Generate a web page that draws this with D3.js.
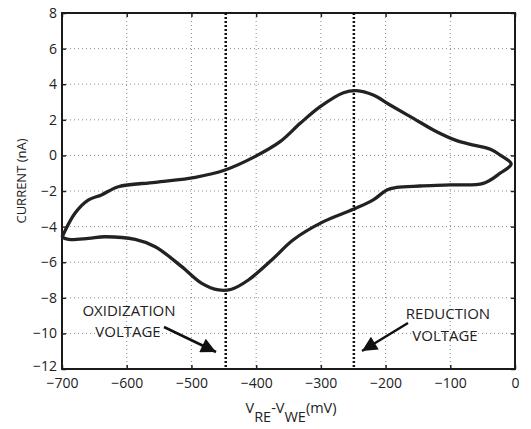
<!DOCTYPE html>
<html>
<head>
<meta charset="utf-8">
<script src="https://cdn.jsdelivr.net/npm/d3@7"></script>
<style>
  body { margin: 0; background: #fff; }
  text { font-family: "Open Sans", "Noto Sans", sans-serif; fill: #222; }
  .tick text { font-size: 14px; }
  .tick line { stroke: #222; }
  .domain { stroke: none; }
</style>
</head>
<body>
<div id="chart"></div>
<script>
// cyclic voltammogram, one full loop starting at -700 mV
var voltage = [-700, -680, -659, -639, -613, -556, -494, -448, -402, -363, -332, -301, -265, -245, -219, -193,
               -157, -121, -90, -64, -38, -23, -6, -23, -49, -100, -147, -183, -198, -219, -250, -296,
               -343, -376, -412, -438, -458, -484, -515, -556, -587, -634, -659, -690, -700];
var current = [-4.6, -3.25, -2.5, -2.22, -1.76, -1.51, -1.23, -0.82, -0.07, 0.77, 1.8, 2.74, 3.52, 3.64, 3.39, 2.83,
               2.08, 1.33, 0.83, 0.58, 0.34, 0.02, -0.48, -1.0, -1.57, -1.66, -1.72, -1.8, -1.94, -2.5, -3.03, -3.72,
               -4.75, -5.88, -7.0, -7.52, -7.56, -7.19, -6.25, -5.13, -4.72, -4.57, -4.66, -4.72, -4.6];

var xTicks = [-700, -600, -500, -400, -300, -200, -100, 0];
var yTicks = [-12, -10, -8, -6, -4, -2, 0, 2, 4, 6, 8];

// marker lines and their labels
var markerVoltage = [-447, -249];
var markerLabel = [["OXIDIZATION", "VOLTAGE"], ["REDUCTION", "VOLTAGE"]];

var margin = {top: 13, right: 16, bottom: 60, left: 62},
    width = 531 - margin.left - margin.right,
    height = 429 - margin.top - margin.bottom
    ;

var svg = d3.select("#chart").append("svg")
    .attr("width", 531)
    .attr("height", 429)
    ;

var plot = svg.append("g")
    .attr("transform", "translate(" + margin.left + "," + margin.top + ")")
    ;

var x = d3.scaleLinear().domain([-700, 0]).range([0, width]);
var y = d3.scaleLinear().domain([-12, 8]).range([height, 0]);

/* dotted grid */
plot.selectAll(".gx").data(xTicks.slice(1, -1)).enter().append("line")
    .attr("x1", d => x(d)).attr("x2", d => x(d))
    .attr("y1", 0).attr("y2", height)
    .attr("stroke", "#8a8a8a").attr("stroke-width", 1)
    .attr("stroke-dasharray", "1,3")
    ;
plot.selectAll(".gy").data(yTicks.slice(1, -1)).enter().append("line")
    .attr("x1", 0).attr("x2", width)
    .attr("y1", d => y(d)).attr("y2", d => y(d))
    .attr("stroke", "#8a8a8a").attr("stroke-width", 1)
    .attr("stroke-dasharray", "1,3")
    ;

/* axes, ticks pointing inward like matlab */
plot.append("g")
    .attr("transform", "translate(0," + height + ")")
    .call(d3.axisBottom(x).tickValues(xTicks).tickSize(-4).tickPadding(9))
    ;
var yAxis = plot.append("g")
    .call(d3.axisLeft(y).tickValues(yTicks).tickSize(-4).tickPadding(5))
    ;
// -12 sits right on top of -700, lift it a hair
yAxis.selectAll(".tick text").filter(d => d == -12).attr("dy", "0.1em");
plot.append("g")
    .call(d3.axisTop(x).tickValues(xTicks).tickSize(-4).tickFormat(""))
    ;
plot.append("g")
    .attr("transform", "translate(" + width + ",0)")
    .call(d3.axisRight(y).tickValues(yTicks).tickSize(-4).tickFormat(""))
    ;
plot.selectAll(".tick line").attr("stroke-width", 1.5);

// frame
plot.append("path")
    .attr("d", "M0,0H" + width + "V" + height + "H0Z")
    .attr("fill", "none")
    .attr("stroke", "#1a1a1a")
    .attr("stroke-width", 2)
    ;

/* vertical marker lines */
plot.selectAll(".marker").data(markerVoltage).enter().append("line")
    .attr("x1", d => x(d)).attr("x2", d => x(d))
    .attr("y1", 0).attr("y2", height)
    .attr("stroke", "#111").attr("stroke-width", 2.5)
    .attr("stroke-dasharray", "2,2")
    ;

/* the loop */
var line = d3.line()
    .x((d, i) => x(voltage[i]))
    .y((d, i) => y(current[i]))
    .curve(d3.curveCatmullRom.alpha(0.5))
    ;
plot.append("path")
    .attr("d", line(voltage))
    .attr("fill", "none")
    .attr("stroke", "#222")
    .attr("stroke-width", 3.3)
    .attr("stroke-linejoin", "round")
    ;

/* annotation text + arrows */
svg.append("defs").append("marker")
    .attr("id", "head")
    .attr("viewBox", "0 0 10 10")
    .attr("refX", 10).attr("refY", 5)
    .attr("markerWidth", 9).attr("markerHeight", 6)
    .attr("markerUnits", "strokeWidth")
    .attr("orient", "auto")
  .append("path")
    .attr("d", "M0,0L10,5L0,10Z")
    .attr("fill", "#111")
    ;

var oxi = svg.append("text").attr("x", 129).attr("y", 316).attr("text-anchor", "middle").style("font-size", "15px");
oxi.append("tspan").attr("x", 129).text(markerLabel[0][0]);
oxi.append("tspan").attr("x", 128).attr("dy", 21).text(markerLabel[0][1]);

var red = svg.append("text").attr("x", 448).attr("y", 319).attr("text-anchor", "middle").style("font-size", "15px");
red.append("tspan").attr("x", 448).text(markerLabel[1][0]);
red.append("tspan").attr("x", 445).attr("dy", 22).text(markerLabel[1][1]);

svg.append("line")
    .attr("x1", 164).attr("y1", 327)
    .attr("x2", 216).attr("y2", 352)
    .attr("stroke", "#111").attr("stroke-width", 2.5)
    .attr("marker-end", "url(#head)")
    ;
svg.append("line")
    .attr("x1", 408).attr("y1", 323)
    .attr("x2", 362).attr("y2", 351)
    .attr("stroke", "#111").attr("stroke-width", 2.5)
    .attr("marker-end", "url(#head)")
    ;

/* axis titles */
var xl = svg.append("text")
    .attr("x", 291).attr("y", 413)
    .attr("text-anchor", "middle")
    .style("font-size", "14.5px")
    ;
xl.append("tspan").text("V");
xl.append("tspan").attr("dy", 9).text("RE");
xl.append("tspan").attr("dy", -9).text("-V");
xl.append("tspan").attr("dy", 9).text("WE");
xl.append("tspan").attr("dy", -9).text("(mV)");

svg.append("text")
    .attr("transform", "translate(26,181) rotate(-90)")
    .attr("text-anchor", "middle")
    .style("font-size", "13px")
    .text("CURRENT (nA)")
    ;
</script>
</body>
</html>
